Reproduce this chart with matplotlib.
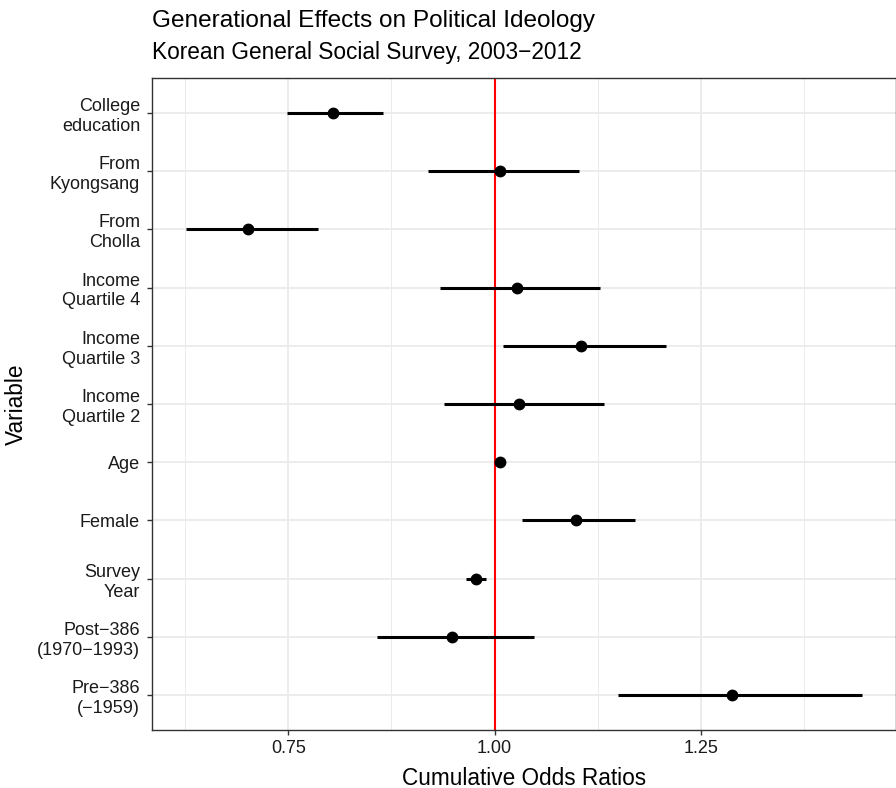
import matplotlib
matplotlib.use("Agg")
import matplotlib.pyplot as plt
import numpy as np

plt.rcParams['font.family'] = ['Liberation Sans', 'DejaVu Sans']

variables = ["College\neducation", "From\nKyongsang", "From\nCholla",
             "Income\nQuartile 4", "Income\nQuartile 3", "Income\nQuartile 2",
             "Age", "Female", "Survey\nYear",
             "Post\u2212386\n(1970\u22121993)", "Pre\u2212386\n(\u22121959)"]
estimate = [0.804, 1.006, 0.701, 1.027, 1.105, 1.030, 1.006, 1.099, 0.977, 0.948, 1.288]
lower = [0.748, 0.919, 0.626, 0.934, 1.010, 0.939, 1.003, 1.033, 0.965, 0.857, 1.149]
upper = [0.865, 1.102, 0.786, 1.128, 1.208, 1.132, 1.009, 1.170, 0.989, 1.048, 1.445]

fig = plt.figure(figsize=(8.96, 7.88), dpi=100)
ax = fig.add_axes([0.1696, 0.0736, 0.8304, 0.8274])

n = len(variables)
ypos = np.arange(n)[::-1] + 1

ax.hlines(ypos, lower, upper, color='black', lw=2.2, zorder=3)
ax.plot(estimate, ypos, 'o', color='black', ms=7.5, zorder=4)
ax.axvline(1.0, color='#FF0000', lw=1.5, zorder=2)

ax.set_xlim(0.585, 1.486)
ax.set_ylim(0.4, n + 0.6)
ax.set_xticks([0.75, 1.00, 1.25])
ax.set_xticklabels(["0.75", "1.00", "1.25"])
ax.set_xticks([0.625, 0.875, 1.125, 1.375], minor=True)
ax.set_yticks(ypos)
ax.set_yticklabels(variables, ha='right', multialignment='right', linespacing=1.22)

ax.grid(True, which='major', color='#EBEBEB', lw=1.3, zorder=0)
ax.grid(True, which='minor', axis='x', color='#EBEBEB', lw=0.7, zorder=0)
ax.set_axisbelow(True)
ax.tick_params(which='major', length=3.6, width=1, color='#333333', labelsize=13,
               labelcolor='#1A1A1A')
ax.tick_params(axis='y', which='major', pad=5)
ax.tick_params(axis='x', which='major', pad=3.5)
ax.tick_params(which='minor', length=0)
for s in ax.spines.values():
    s.set_color('#333333')
    s.set_linewidth(1.0)

ax.set_xlabel("Cumulative Odds Ratios", fontsize=16.3, labelpad=7)
ax.set_ylabel("Variable", fontsize=16.3)
ax.yaxis.set_label_coords(-0.167, 0.5)

fig.text(0.1696, 0.9657, "Generational Effects on Political Ideology", fontsize=17.6, va='baseline')
fig.text(0.1696, 0.9251, "Korean General Social Survey, 2003\u22122012", fontsize=16.3, va='baseline')

fig.savefig("out.png", dpi=100)
